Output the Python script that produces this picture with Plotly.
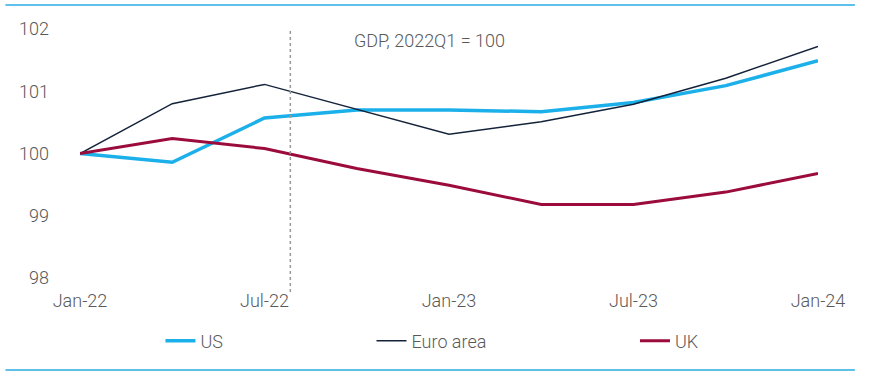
import plotly.graph_objects as go

quarters = ["Jan-22", "Apr-22", "Jul-22", "Oct-22", "Jan-23", "Apr-23", "Jul-23", "Oct-23", "Jan-24"]
us = [100.0, 99.86, 100.57, 100.70, 100.70, 100.67, 100.82, 101.09, 101.49]
euro_area = [100.0, 100.80, 101.11, 100.71, 100.31, 100.51, 100.79, 101.21, 101.72]
uk = [100.0, 100.24, 100.08, 99.76, 99.49, 99.18, 99.18, 99.38, 99.68]
x_tick_labels = ["Jan-22", "Jul-22", "Jan-23", "Jul-23", "Jan-24"]
y_ticks = [98, 99, 100, 101, 102]

TXT = "#595959"
FONT = "Roboto"
FNT = dict(family=FONT, size=18, color=TXT, weight=300)

fig = go.Figure()
fig.add_trace(go.Scatter(x=quarters, y=us, name="US", mode="lines",
                         line=dict(color="#1cb0ea", width=3.5), legend="legend"))
fig.add_trace(go.Scatter(x=quarters, y=euro_area, name="Euro area", mode="lines",
                         line=dict(color="#14233a", width=1.5), legend="legend2"))
fig.add_trace(go.Scatter(x=quarters, y=uk, name="UK", mode="lines",
                         line=dict(color="#9b0b3b", width=3), legend="legend3"))

# dashed vertical marker (just after Jul-22)
fig.add_shape(type="line", xref="x", yref="paper", x0=2.28, x1=2.28, y0=-0.056, y1=1.0,
              line=dict(color="#9a9a9a", width=1.5, dash="dot"))
# top and bottom rules
fig.add_shape(type="line", xref="paper", yref="paper", x0=-0.101, x1=1.05, y0=1.096, y1=1.096,
              line=dict(color="#29ade3", width=1.5))
fig.add_shape(type="line", xref="paper", yref="paper", x0=-0.101, x1=1.05, y0=-0.369, y1=-0.369,
              line=dict(color="#29ade3", width=1.5))

fig.add_annotation(text="GDP, 2022Q1 = 100", xref="paper", yref="paper", x=0.473, y=0.952,
                   showarrow=False, xanchor="center", yanchor="middle", font=FNT)

leg_common = dict(orientation="h", yanchor="middle", y=-0.253, xanchor="left",
                  bgcolor="rgba(0,0,0,0)", font=FNT)
fig.update_layout(
    width=869, height=375,
    margin=dict(l=80, r=51, t=29, b=97),
    paper_bgcolor="white", plot_bgcolor="white",
    font=FNT,
    showlegend=True,
    legend=dict(x=0.109, **leg_common),
    legend2=dict(x=0.395, **leg_common),
    legend3=dict(x=0.752, **leg_common),
    xaxis=dict(type="category", range=[0, 8], showgrid=False, zeroline=False, showline=False,
               tickmode="array", tickvals=x_tick_labels, ticktext=x_tick_labels,
               ticks="", ticklabelstandoff=10, tickfont=FNT),
    yaxis=dict(range=[98, 102], showgrid=False, zeroline=False, showline=False,
               tickmode="array", tickvals=y_ticks, ticks="", ticklabelstandoff=30,
               tickfont=FNT),
)

fig.write_html("out.html", config={"displayModeBar": False},
               post_script="document.body.style.margin='0';")
